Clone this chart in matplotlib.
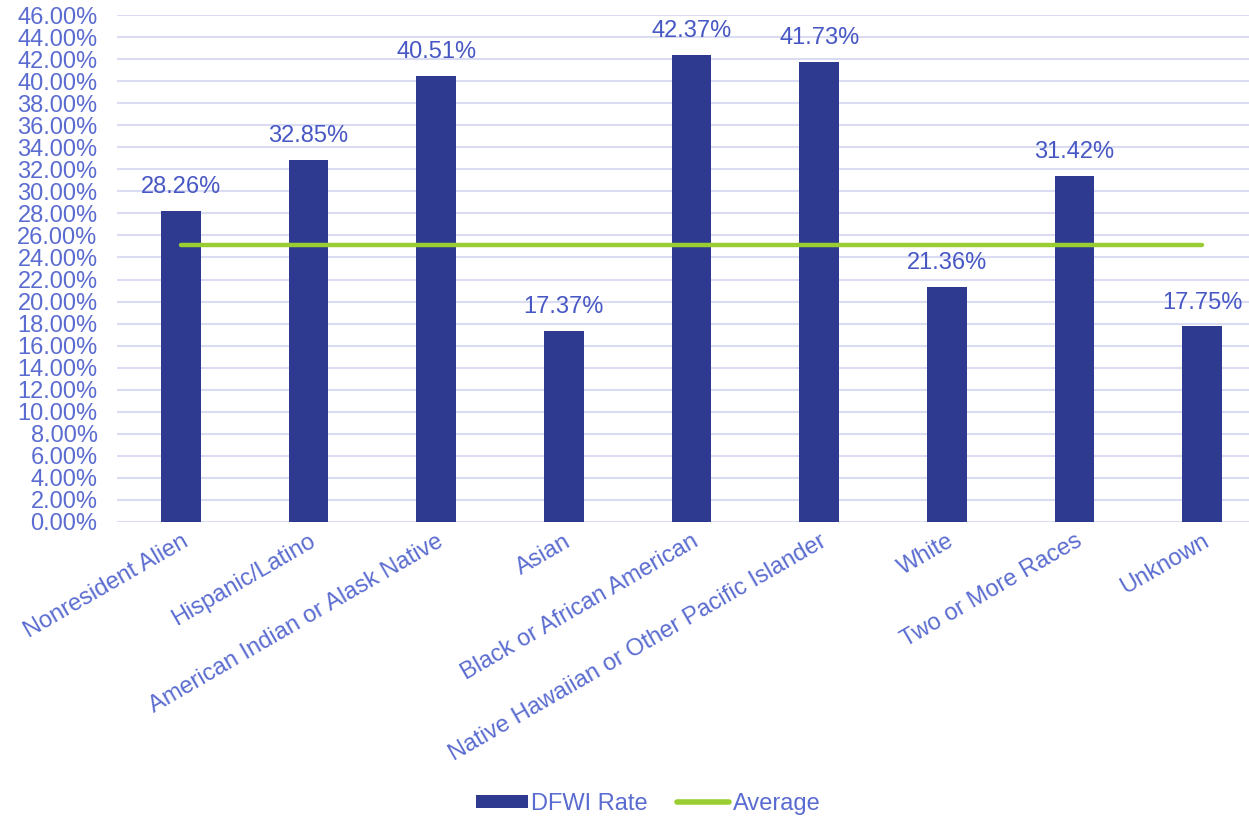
import matplotlib.pyplot as plt
from matplotlib.ticker import FuncFormatter, MultipleLocator
from matplotlib.patches import Patch
from matplotlib.lines import Line2D

# data
categories = ['Nonresident Alien', 'Hispanic/Latino', 'American Indian or Alask Native',
              'Asian', 'Black or African American', 'Native Hawaiian or Other Pacific Islander',
              'White', 'Two or More Races', 'Unknown']
dfwi_rate = [28.26, 32.85, 40.51, 17.37, 42.37, 41.73, 21.36, 31.42, 17.75]
average = [25.1] * len(categories)

bar_color = '#2E3A8F'
line_color = '#9ACD32'
text_color = '#5B6CD0'
label_color = '#4758C4'
grid_color = '#D9DCF2'

plt.rcParams['font.family'] = ['Liberation Sans', 'DejaVu Sans']

fig = plt.figure(figsize=(12.49, 8.17), dpi=100)
ax = fig.add_axes([117 / 1249, 1 - 522 / 817, 1149 / 1249, 507 / 817])

x = range(len(categories))
ax.bar(x, dfwi_rate, width=0.31, color=bar_color, zorder=2)
ax.plot(x, average, color=line_color, lw=3.2, solid_capstyle='round', zorder=3)

for xi, v in zip(x, dfwi_rate):
    ax.annotate(f'{v:.2f}%', (xi, v), xytext=(0, 17), textcoords='offset points',
                ha='center', va='center', fontsize=17, color=label_color)

ax.set_xlim(-0.5, len(categories) - 0.5)
ax.set_ylim(0, 46)
ax.yaxis.set_major_locator(MultipleLocator(2))
ax.yaxis.set_major_formatter(FuncFormatter(lambda v, p: f'{v:.2f}%'))
ax.grid(axis='y', color=grid_color, lw=1.5, zorder=0)
ax.set_axisbelow(True)
for s in ax.spines.values():
    s.set_visible(False)
ax.tick_params(axis='both', length=0, labelsize=17, colors=text_color)
ax.tick_params(axis='y', pad=14)
ax.tick_params(axis='x', pad=6)
ax.set_xticks(list(x))
ax.set_xticklabels(categories, rotation=30, ha='right', rotation_mode='anchor')

handles = [Patch(facecolor=bar_color, label='DFWI Rate'),
           Line2D([], [], color=line_color, lw=4, solid_capstyle='round', label='Average')]
fig.legend(handles=handles, loc='center', bbox_to_anchor=(0.519, 1 - 804 / 817), ncol=2,
           frameon=False, fontsize=17, labelcolor=text_color, handlelength=2.2,
           handleheight=0.5, handletextpad=0.15, columnspacing=1.25)

plt.savefig('out.png', dpi=100)
